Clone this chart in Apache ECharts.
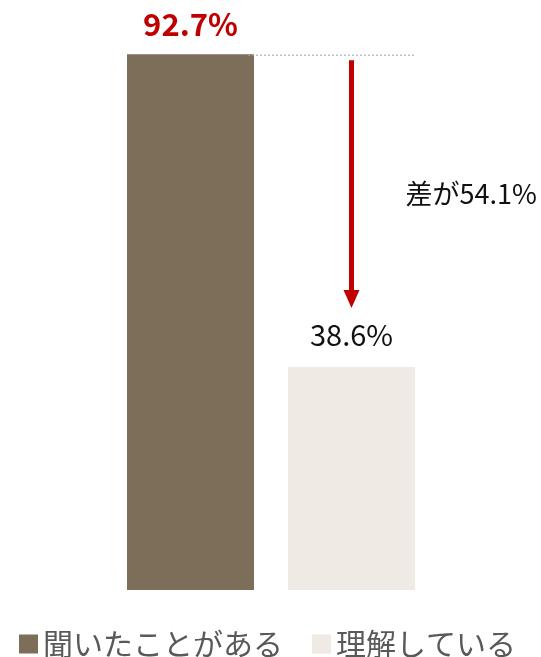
<!DOCTYPE html>
<html>
<head>
<meta charset="utf-8">
<script src="https://cdn.jsdelivr.net/npm/echarts@6/dist/echarts.min.js"></script>
<style>
  html, body { margin: 0; padding: 0; background: #fff; }
  #chart { width: 541px; height: 657px; }
</style>
</head>
<body>
<div id="chart"></div>
<script>
var chart = echarts.init(document.getElementById('chart'));

var categories = ['聞いたことがある', '理解している'];
var heardValues = [92.7, '-'];
var understandValues = ['-', 38.6];
var barW = 127;

var font = '"Noto Sans CJK JP", "Noto Sans", sans-serif';

var option = {
    animation: false,
    grid: { left: 110, right: 109, top: 12, bottom: 67 },
    xAxis: {
        type: 'category',
        data: categories,
        show: false
    },
    yAxis: {
        type: 'value',
        min: 0,
        max: 100,
        show: false
    },
    legend: {
        data: categories,
        left: 14,
        top: 624,
        icon: 'rect',
        itemWidth: 19,
        itemHeight: 19,
        itemGap: 29,
        textStyle: {
            fontSize: 30,
            color: '#595959',
            fontFamily: font,
            padding: [0, 0, 0, 0]
        }
    },
    series: [
        {
            name: categories[0],
            type: 'bar',
            stack: 'all',
            barWidth: barW,
            data: heardValues,
            itemStyle: { color: '#7C6E59' },
            label: {
                show: true,
                position: 'top',
                distance: 14,
                formatter: '{c}%',
                color: '#C00000',
                fontSize: 31,
                fontWeight: 'bold',
                fontFamily: font
            }
        },
        {
            name: categories[1],
            type: 'bar',
            stack: 'all',
            barWidth: barW,
            data: understandValues,
            itemStyle: { color: '#EFEBE4' },
            label: {
                show: true,
                position: 'top',
                distance: 17,
                formatter: '{c}%',
                color: '#111',
                fontSize: 29,
                fontFamily: font
            }
        },
        {
            type: 'custom',
            silent: true,
            z: 5,
            data: [[0, heardValues[0], understandValues[1]]],
            renderItem: function (params, api) {
                var hi = api.coord([0, api.value(1)]);
                var lo = api.coord([1, api.value(2)]);
                var mid = api.coord([1, (api.value(1) + api.value(2)) / 2]);
                var half = barW / 2;
                var diff = (api.value(1) - api.value(2)).toFixed(1);
                return {
                    type: 'group',
                    children: [
                        {
                            type: 'line',
                            shape: { x1: hi[0] + half - 6, y1: hi[1] + 1, x2: lo[0] + half, y2: hi[1] + 1 },
                            style: { stroke: '#A6A6A6', lineWidth: 1, lineDash: [2, 2] }
                        },
                        {
                            type: 'line',
                            shape: { x1: lo[0], y1: hi[1] + 6, x2: lo[0], y2: lo[1] - 76 },
                            style: { stroke: '#C00000', lineWidth: 5 }
                        },
                        {
                            type: 'polygon',
                            shape: { points: [[lo[0] - 8, lo[1] - 77], [lo[0] + 8, lo[1] - 77], [lo[0], lo[1] - 59]] },
                            style: { fill: '#C00000' }
                        },
                        {
                            type: 'text',
                            x: lo[0] + 54,
                            y: mid[1] - 17,
                            style: {
                                text: '差が' + diff + '%',
                                fill: '#111',
                                fontSize: 27,
                                fontFamily: font,
                                verticalAlign: 'middle',
                                align: 'left'
                            }
                        }
                    ]
                };
            }
        }
    ]
};

chart.setOption(option);
</script>
</body>
</html>
